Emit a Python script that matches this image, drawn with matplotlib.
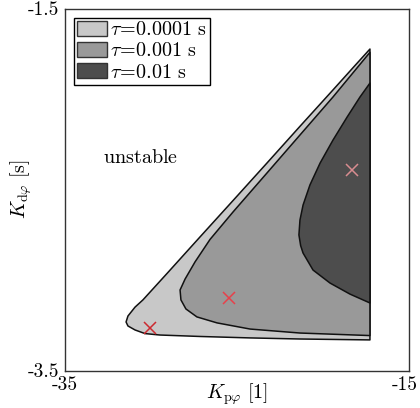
import matplotlib
matplotlib.use("Agg")
import matplotlib.pyplot as plt
from matplotlib.patches import Patch
from matplotlib.transforms import ScaledTranslation

plt.rcParams['mathtext.fontset'] = 'cm'
plt.rcParams['font.family'] = ['cmr10', 'DejaVu Serif']
plt.rcParams['axes.unicode_minus'] = False

# Stability region boundaries (Kp, Kd)
light_kp = [-17.27, -17.27, -21.34, -24.24, -27.15, -29.48, -30.35, -30.93, -31.34, -31.45,
            -31.34, -30.93, -30.47, -29.07, -27.15, -25.23, -23.26, -21.34, -19.42, -18.14]
light_kd = [-1.724, -3.331, -3.326, -3.320, -3.312, -3.304, -3.296, -3.276, -3.254, -3.232,
            -3.199, -3.150, -3.110, -2.964, -2.762, -2.561, -2.354, -2.151, -1.950, -1.815]

mid_kp = [-17.27, -19.42, -21.34, -23.26, -25.23, -26.57, -27.44, -28.02, -28.31, -28.26,
          -27.97, -27.33, -26.16, -24.24, -21.34, -17.27]
mid_kd = [-1.742, -1.989, -2.199, -2.409, -2.624, -2.776, -2.900, -2.995, -3.055, -3.110,
          -3.160, -3.204, -3.237, -3.271, -3.293, -3.307]

dark_kp = [-17.27, -17.85, -18.60, -19.42, -20.17, -20.76, -21.16, -21.34, -21.40, -21.30,
           -21.16, -20.58, -19.59, -18.43, -17.27]
dark_kd = [-1.912, -1.989, -2.100, -2.227, -2.354, -2.475, -2.586, -2.669, -2.751, -2.810,
           -2.851, -2.945, -3.017, -3.078, -3.127]

# Optimal points
opt_kp = [-30.06, -25.47, -18.31]
opt_kd = [-3.265, -3.100, -2.392]

labels = [r'$\tau\!=\!0.0001\ \mathrm{s}$', r'$\tau\!=\!0.001\ \mathrm{s}$', r'$\tau\!=\!0.01\ \mathrm{s}$']
xticks = [-35, -15]
yticks = [-1.5, -3.5]

fills = ['#c8c8c8', '#999999', '#4d4d4d']
cross_colors = ['#cc2a30', '#e8404a', '#d88c90']

fig = plt.figure(figsize=(4.2, 4.08), dpi=100)
ax = fig.add_axes([65/420, 1 - 370.5/408, 344/420, 362/408])

for kp, kd, c in zip([light_kp, mid_kp, dark_kp], [light_kd, mid_kd, dark_kd], fills):
    ax.fill(kp, kd, facecolor=c, edgecolor='#111111', linewidth=1.1, zorder=2,
            joinstyle='round')

for x, y, c in zip(opt_kp, opt_kd, cross_colors):
    ax.plot(x, y, marker='x', color=c, markersize=8, markeredgewidth=1.1, linestyle='none', zorder=3)

ax.text(-32.8, -2.326, r'$\mathrm{unstable}$', fontsize=14.5, va='center', ha='left')

ax.set_xlim(-35, -15)
ax.set_ylim(-3.5, -1.5)
ax.set_xticks(xticks)
ax.set_xticklabels([str(v) for v in xticks], fontsize=14)
ax.set_yticks(yticks)
ax.set_yticklabels([str(v) for v in yticks], fontsize=14)
ax.tick_params(length=0, pad=4)
# keep the right-most tick label inside the canvas
xl = ax.get_xticklabels()[-1]
xl.set_transform(xl.get_transform() + ScaledTranslation(-4/100, 0, fig.dpi_scale_trans))
for s in ax.spines.values():
    s.set_color('#333333')
    s.set_linewidth(1.0)

ax.set_xlabel(r'$K_{\mathrm{p}\varphi}\ [1]$', fontsize=14.5, labelpad=-9)
ax.set_ylabel(r'$K_{\mathrm{d}\varphi}\ [\mathrm{s}]$', fontsize=14.5, labelpad=-4)

handles = [Patch(facecolor=c, edgecolor='#333333', linewidth=1.0) for c in fills]
leg = ax.legend(handles, labels, loc='upper left', fontsize=14.5, frameon=True, fancybox=False,
                framealpha=1, edgecolor='black', borderpad=0.15, labelspacing=0.12,
                handlelength=1.5, handleheight=0.8, handletextpad=0.15, borderaxespad=0.45)
leg.get_frame().set_linewidth(1.0)

fig.savefig('out.png', dpi=100)
